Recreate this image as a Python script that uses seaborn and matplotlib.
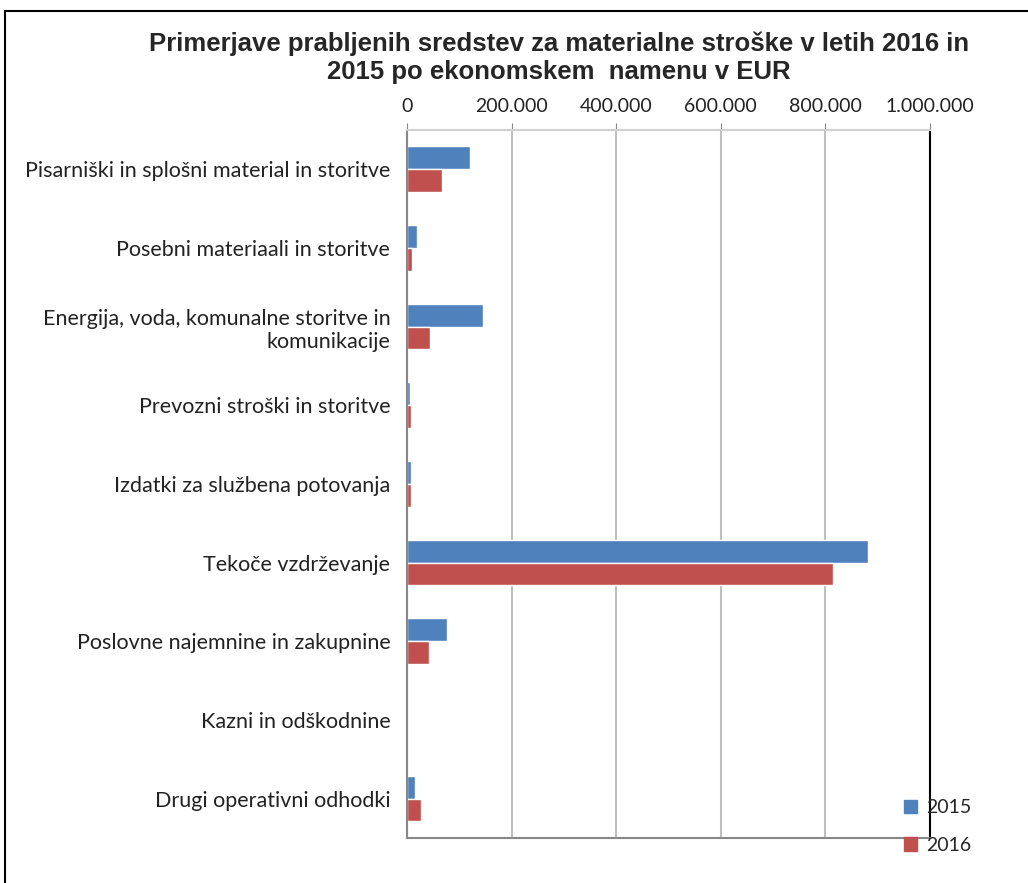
import numpy as np
import pandas as pd
from matplotlib import pyplot as plt
from matplotlib.lines import Line2D
import seaborn as sns

categories = [
    'Pisarniški in splošni material in storitve',
    'Posebni materiaali in storitve',
    'Energija, voda, komunalne storitve in\nkomunikacije',
    'Prevozni stroški in storitve',
    'Izdatki za službena potovanja',
    'Tekoče vzdrževanje',
    'Poslovne najemnine in zakupnine',
    'Kazni in odškodnine',
    'Drugi operativni odhodki',
]
values_2015 = [120000, 20000, 145000, 6000, 8000, 882000, 76000, 0, 16000]
values_2016 = [66000, 10000, 44000, 8000, 8000, 814000, 42000, 0, 27000]
years = ['2015', '2016']
xticks = [0, 200000, 400000, 600000, 800000, 1000000]
xtick_labels = ['0', '200.000', '400.000', '600.000', '800.000', '1.000.000']

df = pd.DataFrame({
    'kategorija': categories * 2,
    'vrednost': values_2015 + values_2016,
    'leto': [years[0]] * len(categories) + [years[1]] * len(categories),
})

sns.set_style('white')
plt.rcParams['font.family'] = ['Lato', 'DejaVu Sans']

fig = plt.figure(figsize=(10.28, 8.83), dpi=100)
ax = fig.add_axes([0.3959, 0.0510, 0.5088, 0.8018])

sns.barplot(data=df, y='kategorija', x='vrednost', hue='leto', orient='h',
            palette=['#4F81BD', '#C0504D'], saturation=1, width=0.58, ax=ax, legend=False)

ax.set_xlim(0, 1000000)
ax.set_ylim(len(categories) - 0.5, -0.5)
ax.set_xticks(xticks)
ax.set_xticklabels(xtick_labels, fontsize=14, color='#222222')
ax.xaxis.tick_top()
ax.tick_params(axis='x', length=5, color='#888888', pad=6, direction='out')
ax.grid(axis='x', color='#BFBFBF', linewidth=1.5)
ax.set_axisbelow(True)

ax.set_yticks(range(len(categories)))
ax.set_yticklabels(categories, fontsize=15.5, color='#222222')
ax.set_yticks(np.arange(len(categories) + 1) - 0.5, minor=True)
ax.tick_params(axis='y', which='major', length=0, pad=12)
ax.tick_params(axis='y', which='minor', length=7, color='#888888', width=1.2)
ax.set_xlabel('')
ax.set_ylabel('')

for side in ['left', 'bottom', 'top']:
    ax.spines[side].set_color('#888888')
    ax.spines[side].set_linewidth(1.5)
ax.spines['right'].set_color('black')
ax.spines['right'].set_linewidth(1.5)
ax.spines['top'].set_color('#D0D0D0')

fig.text(0.544, 0.964, 'Primerjave prabljenih sredstev za materialne stroške v letih 2016 in\n'
         '2015 po ekonomskem  namenu v EUR', ha='center', va='top',
         fontsize=18.5, fontweight='bold', family=['Liberation Sans', 'DejaVu Sans'],
         linespacing=1.2)

# outer chart frame
fig.add_artist(Line2D([0.005, 0.005], [0, 0.987], color='black', linewidth=1.5))
fig.add_artist(Line2D([0.005, 1.0], [0.987, 0.987], color='black', linewidth=1.5))

handles = [plt.Rectangle((0, 0), 1, 1, color=c) for c in ['#4F81BD', '#C0504D']]
fig.legend(handles, years, loc='center left', bbox_to_anchor=(0.862, 0.064),
           frameon=False, fontsize=14, handlelength=0.7, handleheight=0.7,
           labelspacing=1.05, handletextpad=0.45)

plt.savefig('out.png', dpi=100)
